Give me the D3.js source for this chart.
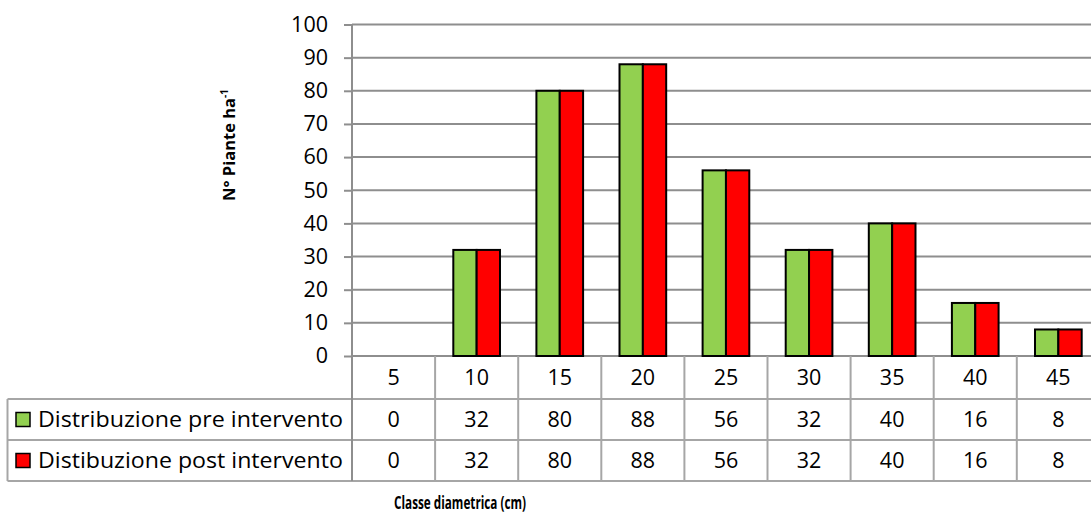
<!DOCTYPE html>
<html>
<head>
<meta charset="utf-8">
<script src="https://cdn.jsdelivr.net/npm/d3@7"></script>
<style>
  html, body { margin: 0; padding: 0; background: #fff; }
  svg { display: block; }
  text { font-family: "Open Sans", "Noto Sans", sans-serif; fill: #000; }
</style>
</head>
<body>
<svg id="chart" width="1091" height="513"></svg>
<script>
// Diameter classes (cm)
const categories = ["5", "10", "15", "20", "25", "30", "35", "40", "45"];
// Trees per hectare for each class
const preValues  = [0, 32, 80, 88, 56, 32, 40, 16, 8];
const postValues = [0, 32, 80, 88, 56, 32, 40, 16, 8];
const seriesNames = ["Distribuzione pre intervento", "Distibuzione post intervento"];
const seriesColors = ["#92D050", "#FF0000"];
const yTicks = [0, 10, 20, 30, 40, 50, 60, 70, 80, 90, 100];

const series = [preValues, postValues];

const svg = d3.select("#chart");

const plotLeft = 352, plotTop = 24.5, plotBottom = 356;
const colW = 83.1;
const plotRight = plotLeft + colW * categories.length;
const numSize = 21.5;

const x = d3.scaleBand().domain(categories).range([plotLeft, plotRight]).padding(0);
const xs = d3.scaleBand().domain([0, 1]).range([0, x.bandwidth()]).paddingInner(0).paddingOuter(0.78);
const y = d3.scaleLinear().domain([0, 100]).range([plotBottom, plotTop]);

const gridColor = "#8e8e8e";
const tableColor = "#a6a6a6";

// horizontal gridlines
svg.append("g").selectAll("line").data(yTicks).join("line")
  .attr("x1", plotLeft).attr("x2", 1091)
  .attr("y1", d => y(d)).attr("y2", d => y(d))
  .attr("stroke", gridColor).attr("stroke-width", 2);

// y axis with ticks on the left
const yAxis = d3.axisLeft(y).tickValues(yTicks).tickSize(8).tickPadding(16);
const yg = svg.append("g").attr("transform", `translate(${plotLeft},0)`).call(yAxis);
yg.select(".domain").attr("stroke", gridColor).attr("stroke-width", 2)
  .attr("d", `M0,${plotTop}V${plotBottom}`);
yg.selectAll(".tick line").attr("stroke", gridColor).attr("stroke-width", 2);
yg.selectAll(".tick text").attr("font-size", numSize).attr("font-family", "Open Sans").attr("fill", "#000");

// bars
const groups = svg.append("g").selectAll("g").data(categories).join("g")
  .attr("transform", d => `translate(${x(d)},0)`);
groups.selectAll("rect").data((d, i) => series.map((s, k) => ({ k, v: s[i] }))).join("rect")
  .filter(d => d.v > 0)
  .attr("x", d => xs(d.k))
  .attr("width", xs.bandwidth())
  .attr("y", d => y(d.v))
  .attr("height", d => y(0) - y(d.v))
  .attr("fill", d => seriesColors[d.k])
  .attr("stroke", "#000").attr("stroke-width", 2);

// data table under the plot
const headTop = plotBottom, headBottom = 399, row1Bottom = 440, row2Bottom = 481;
const tableLeft = 7.5;
const tg = svg.append("g");

// horizontal rules
[headBottom, row1Bottom, row2Bottom].forEach(yy => {
  tg.append("line").attr("x1", tableLeft).attr("x2", 1091).attr("y1", yy).attr("y2", yy)
    .attr("stroke", tableColor).attr("stroke-width", 2);
});
tg.append("line").attr("x1", tableLeft).attr("x2", tableLeft).attr("y1", headBottom).attr("y2", row2Bottom)
  .attr("stroke", tableColor).attr("stroke-width", 2);

// vertical column rules
const bounds = categories.map(c => x(c));
tg.selectAll("line.col").data(bounds).join("line").attr("class", "col")
  .attr("x1", d => d).attr("x2", d => d)
  .attr("y1", (d, i) => i === 0 ? plotTop : headTop).attr("y2", row2Bottom)
  .attr("stroke", (d, i) => i === 0 ? gridColor : tableColor).attr("stroke-width", 2);

// header labels
tg.selectAll("text.head").data(categories).join("text").attr("class", "head")
  .attr("x", d => x(d) + x.bandwidth() / 2).attr("y", (headTop + headBottom) / 2 + 7.5)
  .attr("text-anchor", "middle").attr("font-size", numSize).text(d => d);

// value rows
const rowTops = [headBottom, row1Bottom];
series.forEach((s, k) => {
  const cy = rowTops[k] + 20.5;
  tg.selectAll(`text.v${k}`).data(s).join("text").attr("class", `v${k}`)
    .attr("x", (d, i) => x(categories[i]) + x.bandwidth() / 2).attr("y", cy + 7.5)
    .attr("text-anchor", "middle").attr("font-size", numSize).text(d => d);
  tg.append("rect").attr("x", 16).attr("y", cy - 7).attr("width", 14).attr("height", 14)
    .attr("fill", seriesColors[k]).attr("stroke", "#000").attr("stroke-width", 1.5);
  tg.append("text").attr("x", 38).attr("y", cy + 7.5).attr("font-size", numSize)
    .attr("textLength", 305).attr("lengthAdjust", "spacingAndGlyphs")
    .text(seriesNames[k]);
});

// axis titles
svg.append("text").attr("x", 460).attr("y", 509).attr("text-anchor", "middle")
  .attr("font-size", 17).attr("font-weight", "bold")
  .attr("textLength", 132).attr("lengthAdjust", "spacingAndGlyphs")
  .text("Classe diametrica (cm)");

const yt = svg.append("text").attr("transform", "translate(235,145) rotate(-90)")
  .attr("text-anchor", "middle").attr("font-size", 16.5).attr("font-weight", "bold");
yt.append("tspan").text("N° Piante ha");
yt.append("tspan").attr("font-size", 10).attr("dy", -7).text("-1");
</script>
</body>
</html>
